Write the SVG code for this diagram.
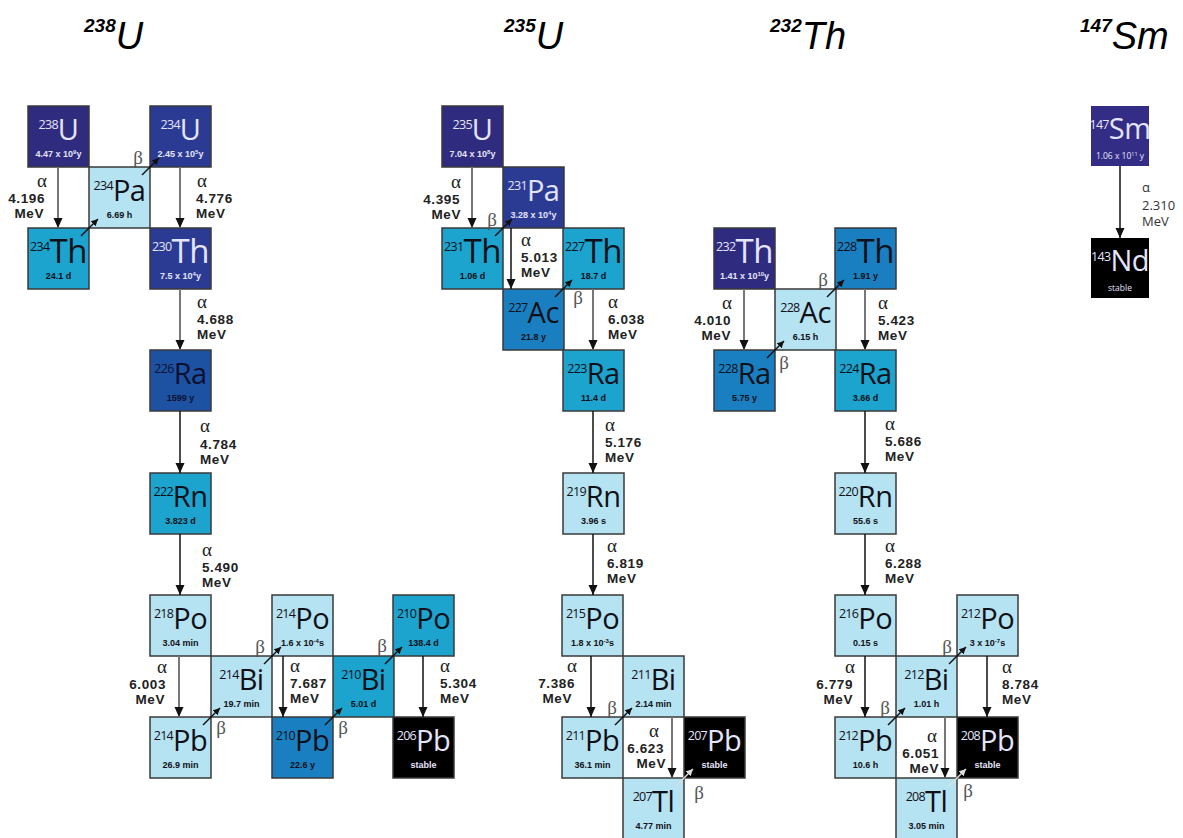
<svg xmlns="http://www.w3.org/2000/svg" width="1183" height="838" viewBox="0 0 1183 838">
<style>
.box{stroke:#3a3a3a;stroke-width:1.5}
.c1{fill:#2f2b7e}.c2{fill:#2b3b93}.c3{fill:#1d52a3}.c4{fill:#1a7fc1}.c5{fill:#1ca3ce}.c6{fill:#b6e3f2}.c7{fill:#000}
.sym{font-family:"Open Sans","Noto Sans",sans-serif;font-size:29px;text-anchor:middle;letter-spacing:-0.5px}
.big{font-size:33px}
.ms{font-size:12.5px;letter-spacing:-0.7px}
.hl{font-family:"Liberation Sans",Arial,sans-serif;font-weight:bold;font-size:9px;text-anchor:middle}
.sup{font-size:6px}
.tw{fill:#e4e4fb}.tk{fill:#101018}.tb{fill:#0c1030}
.en{font-family:"Liberation Sans",Arial,sans-serif;font-weight:bold;font-size:13.5px;letter-spacing:0.6px;fill:#222}
.al{font-family:"Liberation Serif",serif;font-weight:normal;font-size:19px;letter-spacing:0}
.bt{font-family:"Liberation Serif",serif;font-size:19px;fill:#555;text-anchor:middle}
.hd{font-family:"Liberation Sans",Arial,sans-serif;font-style:italic;font-size:38px;fill:#000}
.hds{font-size:19px;font-weight:bold}
.ak{stroke:#111;stroke-width:1.5;fill:none}
.ag{stroke:#777;stroke-width:2;fill:none}
.bk{stroke:#111;stroke-width:1.5;fill:none}
.bw{stroke:#ddd;stroke-width:1.5;fill:none}
</style>
<defs>
<marker id="hk" markerUnits="userSpaceOnUse" markerWidth="12" markerHeight="12" refX="10" refY="5" orient="auto"><path d="M0,0.5 L10,5 L0,9.5 z" fill="#111"/></marker>
<marker id="hg" markerUnits="userSpaceOnUse" markerWidth="12" markerHeight="12" refX="10" refY="5" orient="auto"><path d="M0,0.5 L10,5 L0,9.5 z" fill="#111"/></marker>
<marker id="bk" markerUnits="userSpaceOnUse" markerWidth="10" markerHeight="10" refX="7" refY="3.5" orient="auto"><path d="M0,0 L7,3.5 L0,7 z" fill="#111"/></marker>
<marker id="bw" markerUnits="userSpaceOnUse" markerWidth="10" markerHeight="10" refX="7" refY="3.5" orient="auto"><path d="M0,0 L7,3.5 L0,7 z" fill="#ddd"/></marker>
</defs>

<!-- headings -->
<g id="headings">
<text class="hd" x="84" y="49"><tspan class="hds" dy="-17">238</tspan><tspan dy="17">U</tspan></text>
<text class="hd" x="504" y="49"><tspan class="hds" dy="-17">235</tspan><tspan dy="17">U</tspan></text>
<text class="hd" x="770" y="49"><tspan class="hds" dy="-17">232</tspan><tspan dy="17">Th</tspan></text>
<text class="hd" x="1080" y="49"><tspan class="hds" dy="-17">147</tspan><tspan dy="17">Sm</tspan></text>
</g>

<!-- 238U series -->
<g id="n-U238" transform="translate(28,106)"><rect class="box c1" width="61" height="61"/><text class="sym tw" x="30.5" y="34"><tspan class="ms" dy="-11">238</tspan><tspan dy="11">U</tspan></text><text class="hl tw" x="30.5" y="51">4.47 x 10<tspan class="sup" dy="-3">9</tspan><tspan dy="3">y</tspan></text></g>
<g id="n-U234" transform="translate(150,106)"><rect class="box c2" width="61" height="61"/><text class="sym tw" x="30.5" y="34"><tspan class="ms" dy="-11">234</tspan><tspan dy="11">U</tspan></text><text class="hl tw" x="30.5" y="51">2.45 x 10<tspan class="sup" dy="-3">5</tspan><tspan dy="3">y</tspan></text></g>
<g id="n-Pa234" transform="translate(89,167)"><rect class="box c6" width="61" height="61"/><text class="sym tk" x="30.5" y="34"><tspan class="ms" dy="-11">234</tspan><tspan dy="11">Pa</tspan></text><text class="hl tk" x="30.5" y="51">6.69 h</text></g>
<g id="n-Th234" transform="translate(28,228)"><rect class="box c5" width="61" height="61"/><text class="sym big tk" x="30.5" y="35"><tspan class="ms" dy="-12">234</tspan><tspan dy="12">Th</tspan></text><text class="hl tk" x="30.5" y="51">24.1 d</text></g>
<g id="n-Th230" transform="translate(150,228)"><rect class="box c2" width="61" height="61"/><text class="sym big tw" x="30.5" y="35"><tspan class="ms" dy="-12">230</tspan><tspan dy="12">Th</tspan></text><text class="hl tw" x="30.5" y="51">7.5 x 10<tspan class="sup" dy="-3">4</tspan><tspan dy="3">y</tspan></text></g>
<g id="n-Ra226" transform="translate(150,350)"><rect class="box c3" width="61" height="61"/><text class="sym tb" x="30.5" y="34"><tspan class="ms" dy="-11">226</tspan><tspan dy="11">Ra</tspan></text><text class="hl tb" x="30.5" y="51">1599 y</text></g>
<g id="n-Rn222" transform="translate(150,473)"><rect class="box c5" width="61" height="61"/><text class="sym tk" x="30.5" y="34"><tspan class="ms" dy="-11">222</tspan><tspan dy="11">Rn</tspan></text><text class="hl tk" x="30.5" y="51">3.823 d</text></g>
<g id="n-Po218" transform="translate(150,595)"><rect class="box c6" width="61" height="61"/><text class="sym tk" x="30.5" y="34"><tspan class="ms" dy="-11">218</tspan><tspan dy="11">Po</tspan></text><text class="hl tk" x="30.5" y="51">3.04 min</text></g>
<g id="n-Bi214" transform="translate(211,656)"><rect class="box c6" width="61" height="61"/><text class="sym tk" x="30.5" y="34"><tspan class="ms" dy="-11">214</tspan><tspan dy="11">Bi</tspan></text><text class="hl tk" x="30.5" y="51">19.7 min</text></g>
<g id="n-Pb214" transform="translate(150,717)"><rect class="box c6" width="61" height="61"/><text class="sym tk" x="30.5" y="34"><tspan class="ms" dy="-11">214</tspan><tspan dy="11">Pb</tspan></text><text class="hl tk" x="30.5" y="51">26.9 min</text></g>
<g id="n-Po214" transform="translate(272,595)"><rect class="box c6" width="61" height="61"/><text class="sym tk" x="30.5" y="34"><tspan class="ms" dy="-11">214</tspan><tspan dy="11">Po</tspan></text><text class="hl tk" x="30.5" y="51">1.6 x 10<tspan class="sup" dy="-3">-4</tspan><tspan dy="3">s</tspan></text></g>
<g id="n-Pb210" transform="translate(272,717)"><rect class="box c4" width="61" height="61"/><text class="sym tk" x="30.5" y="34"><tspan class="ms" dy="-11">210</tspan><tspan dy="11">Pb</tspan></text><text class="hl tk" x="30.5" y="51">22.6 y</text></g>
<g id="n-Bi210" transform="translate(333,656)"><rect class="box c5" width="61" height="61"/><text class="sym tk" x="30.5" y="34"><tspan class="ms" dy="-11">210</tspan><tspan dy="11">Bi</tspan></text><text class="hl tk" x="30.5" y="51">5.01 d</text></g>
<g id="n-Po210" transform="translate(393,595)"><rect class="box c5" width="61" height="61"/><text class="sym tk" x="30.5" y="34"><tspan class="ms" dy="-11">210</tspan><tspan dy="11">Po</tspan></text><text class="hl tk" x="30.5" y="51">138.4 d</text></g>
<g id="n-Pb206" transform="translate(393,717)"><rect class="box c7" width="61" height="61"/><text class="sym tw" x="30.5" y="34"><tspan class="ms" dy="-11">206</tspan><tspan dy="11">Pb</tspan></text><text class="hl tw" x="30.5" y="51">stable</text></g>

<!-- 235U series -->
<g id="n-U235" transform="translate(442,106)"><rect class="box c1" width="61" height="61"/><text class="sym tw" x="30.5" y="34"><tspan class="ms" dy="-11">235</tspan><tspan dy="11">U</tspan></text><text class="hl tw" x="30.5" y="51">7.04 x 10<tspan class="sup" dy="-3">8</tspan><tspan dy="3">y</tspan></text></g>
<g id="n-Pa231" transform="translate(503,167)"><rect class="box c2" width="61" height="61"/><text class="sym tw" x="30.5" y="34"><tspan class="ms" dy="-11">231</tspan><tspan dy="11">Pa</tspan></text><text class="hl tw" x="30.5" y="51">3.28 x 10<tspan class="sup" dy="-3">4</tspan><tspan dy="3">y</tspan></text></g>
<g id="n-Th231" transform="translate(442,228)"><rect class="box c5" width="61" height="61"/><text class="sym big tk" x="30.5" y="35"><tspan class="ms" dy="-12">231</tspan><tspan dy="12">Th</tspan></text><text class="hl tk" x="30.5" y="51">1.06 d</text></g>
<g id="n-Th227" transform="translate(563,228)"><rect class="box c5" width="61" height="61"/><text class="sym big tk" x="30.5" y="35"><tspan class="ms" dy="-12">227</tspan><tspan dy="12">Th</tspan></text><text class="hl tk" x="30.5" y="51">18.7 d</text></g>
<g id="n-Ac227" transform="translate(503,289)"><rect class="box c4" width="61" height="61"/><text class="sym tk" x="30.5" y="34"><tspan class="ms" dy="-11">227</tspan><tspan dy="11">Ac</tspan></text><text class="hl tk" x="30.5" y="51">21.8 y</text></g>
<g id="n-Ra223" transform="translate(563,350)"><rect class="box c5" width="61" height="61"/><text class="sym tk" x="30.5" y="34"><tspan class="ms" dy="-11">223</tspan><tspan dy="11">Ra</tspan></text><text class="hl tk" x="30.5" y="51">11.4 d</text></g>
<g id="n-Rn219" transform="translate(563,473)"><rect class="box c6" width="61" height="61"/><text class="sym tk" x="30.5" y="34"><tspan class="ms" dy="-11">219</tspan><tspan dy="11">Rn</tspan></text><text class="hl tk" x="30.5" y="51">3.96 s</text></g>
<g id="n-Po215" transform="translate(562,595)"><rect class="box c6" width="61" height="61"/><text class="sym tk" x="30.5" y="34"><tspan class="ms" dy="-11">215</tspan><tspan dy="11">Po</tspan></text><text class="hl tk" x="30.5" y="51">1.8 x 10<tspan class="sup" dy="-3">-3</tspan><tspan dy="3">s</tspan></text></g>
<g id="n-Bi211" transform="translate(623,656)"><rect class="box c6" width="61" height="61"/><text class="sym tk" x="30.5" y="34"><tspan class="ms" dy="-11">211</tspan><tspan dy="11">Bi</tspan></text><text class="hl tk" x="30.5" y="51">2.14 min</text></g>
<g id="n-Pb211" transform="translate(562,717)"><rect class="box c6" width="61" height="61"/><text class="sym tk" x="30.5" y="34"><tspan class="ms" dy="-11">211</tspan><tspan dy="11">Pb</tspan></text><text class="hl tk" x="30.5" y="51">36.1 min</text></g>
<g id="n-Tl207" transform="translate(623,778)"><rect class="box c6" width="61" height="61"/><text class="sym tk" x="30.5" y="34"><tspan class="ms" dy="-11">207</tspan><tspan dy="11">Tl</tspan></text><text class="hl tk" x="30.5" y="51">4.77 min</text></g>
<g id="n-Pb207" transform="translate(684,717)"><rect class="box c7" width="61" height="61"/><text class="sym tw" x="30.5" y="34"><tspan class="ms" dy="-11">207</tspan><tspan dy="11">Pb</tspan></text><text class="hl tw" x="30.5" y="51">stable</text></g>

<!-- 232Th series -->
<g id="n-Th232" transform="translate(714,228)"><rect class="box c1" width="61" height="61"/><text class="sym big tw" x="30.5" y="35"><tspan class="ms" dy="-12">232</tspan><tspan dy="12">Th</tspan></text><text class="hl tw" x="30.5" y="51">1.41 x 10<tspan class="sup" dy="-3">10</tspan><tspan dy="3">y</tspan></text></g>
<g id="n-Ac228" transform="translate(775,289)"><rect class="box c6" width="61" height="61"/><text class="sym tk" x="30.5" y="34"><tspan class="ms" dy="-11">228</tspan><tspan dy="11">Ac</tspan></text><text class="hl tk" x="30.5" y="51">6.15 h</text></g>
<g id="n-Th228" transform="translate(835,228)"><rect class="box c4" width="61" height="61"/><text class="sym big tk" x="30.5" y="35"><tspan class="ms" dy="-12">228</tspan><tspan dy="12">Th</tspan></text><text class="hl tk" x="30.5" y="51">1.91 y</text></g>
<g id="n-Ra228" transform="translate(714,350)"><rect class="box c4" width="61" height="61"/><text class="sym tk" x="30.5" y="34"><tspan class="ms" dy="-11">228</tspan><tspan dy="11">Ra</tspan></text><text class="hl tk" x="30.5" y="51">5.75 y</text></g>
<g id="n-Ra224" transform="translate(835,350)"><rect class="box c5" width="61" height="61"/><text class="sym tk" x="30.5" y="34"><tspan class="ms" dy="-11">224</tspan><tspan dy="11">Ra</tspan></text><text class="hl tk" x="30.5" y="51">3.66 d</text></g>
<g id="n-Rn220" transform="translate(835,473)"><rect class="box c6" width="61" height="61"/><text class="sym tk" x="30.5" y="34"><tspan class="ms" dy="-11">220</tspan><tspan dy="11">Rn</tspan></text><text class="hl tk" x="30.5" y="51">55.6 s</text></g>
<g id="n-Po216" transform="translate(835,595)"><rect class="box c6" width="61" height="61"/><text class="sym tk" x="30.5" y="34"><tspan class="ms" dy="-11">216</tspan><tspan dy="11">Po</tspan></text><text class="hl tk" x="30.5" y="51">0.15 s</text></g>
<g id="n-Bi212" transform="translate(896,656)"><rect class="box c6" width="61" height="61"/><text class="sym tk" x="30.5" y="34"><tspan class="ms" dy="-11">212</tspan><tspan dy="11">Bi</tspan></text><text class="hl tk" x="30.5" y="51">1.01 h</text></g>
<g id="n-Po212" transform="translate(957,595)"><rect class="box c6" width="61" height="61"/><text class="sym tk" x="30.5" y="34"><tspan class="ms" dy="-11">212</tspan><tspan dy="11">Po</tspan></text><text class="hl tk" x="30.5" y="51">3 x 10<tspan class="sup" dy="-3">-7</tspan><tspan dy="3">s</tspan></text></g>
<g id="n-Pb212" transform="translate(835,717)"><rect class="box c6" width="61" height="61"/><text class="sym tk" x="30.5" y="34"><tspan class="ms" dy="-11">212</tspan><tspan dy="11">Pb</tspan></text><text class="hl tk" x="30.5" y="51">10.6 h</text></g>
<g id="n-Pb208" transform="translate(957,717)"><rect class="box c7" width="61" height="61"/><text class="sym tw" x="30.5" y="34"><tspan class="ms" dy="-11">208</tspan><tspan dy="11">Pb</tspan></text><text class="hl tw" x="30.5" y="51">stable</text></g>
<g id="n-Tl208" transform="translate(896,778)"><rect class="box c6" width="61" height="61"/><text class="sym tk" x="30.5" y="34"><tspan class="ms" dy="-11">208</tspan><tspan dy="11">Tl</tspan></text><text class="hl tk" x="30.5" y="51">3.05 min</text></g>

<!-- 147Sm -->
<g id="n-Sm147" transform="translate(1091,106)"><rect width="58" height="60" fill="#332d85"/><text class="sym tw" x="29" y="33"><tspan class="ms" dy="-10">147</tspan><tspan dy="10">Sm</tspan></text><text x="29" y="53" font-family="Open Sans, sans-serif" font-size="8.5" text-anchor="middle" fill="#e4e4fb">1.06 x 10<tspan font-size="5.5" dy="-3">11</tspan><tspan dy="3"> y</tspan></text></g>
<g id="n-Nd143" transform="translate(1091,238)"><rect class="c7" width="58" height="60"/><text class="sym tw" x="29" y="33"><tspan class="ms" dy="-10">143</tspan><tspan dy="10">Nd</tspan></text><text x="29" y="53" font-family="Open Sans, sans-serif" font-size="8.5" text-anchor="middle" fill="#e4e4fb">stable</text></g>

<!-- connectors -->
<g id="connectors">
<line class="ag" x1="58" y1="167" x2="58" y2="228" marker-end="url(#hg)"/>
<line class="ag" x1="180" y1="167" x2="180" y2="228" marker-end="url(#hg)"/>
<line class="ag" x1="180" y1="289" x2="180" y2="350" marker-end="url(#hg)"/>
<line class="ak" x1="180" y1="411" x2="180" y2="473" marker-end="url(#hk)"/>
<line class="ak" x1="180" y1="534" x2="180" y2="595" marker-end="url(#hk)"/>
<line class="ag" x1="179" y1="656" x2="179" y2="717" marker-end="url(#hg)"/>
<line class="ak" x1="283" y1="656" x2="283" y2="717" marker-end="url(#hk)"/>
<line class="ak" x1="423" y1="656" x2="423" y2="717" marker-end="url(#hk)"/>
<line class="ag" x1="472" y1="167" x2="472" y2="228" marker-end="url(#hg)"/>
<line class="ak" x1="511" y1="228" x2="511" y2="289" marker-end="url(#hk)"/>
<line class="ag" x1="593" y1="289" x2="593" y2="350" marker-end="url(#hg)"/>
<line class="ak" x1="593" y1="411" x2="593" y2="473" marker-end="url(#hk)"/>
<line class="ak" x1="593" y1="534" x2="593" y2="595" marker-end="url(#hk)"/>
<line class="ak" x1="591" y1="656" x2="591" y2="717" marker-end="url(#hk)"/>
<line class="ag" x1="672" y1="717" x2="672" y2="778" marker-end="url(#hg)"/>
<line class="ag" x1="744" y1="289" x2="744" y2="350" marker-end="url(#hg)"/>
<line class="ag" x1="865" y1="289" x2="865" y2="350" marker-end="url(#hg)"/>
<line class="ak" x1="865" y1="411" x2="865" y2="473" marker-end="url(#hk)"/>
<line class="ak" x1="865" y1="534" x2="865" y2="595" marker-end="url(#hk)"/>
<line class="ak" x1="865" y1="656" x2="865" y2="717" marker-end="url(#hk)"/>
<line class="ak" x1="987" y1="656" x2="987" y2="717" marker-end="url(#hk)"/>
<line class="ag" x1="945" y1="717" x2="945" y2="778" marker-end="url(#hg)"/>
<line class="ak" x1="1120" y1="166" x2="1120" y2="238" marker-end="url(#hk)"/>
<!-- beta -->
<line class="bk" x1="81" y1="236" x2="98" y2="219" marker-end="url(#bk)"/>
<line class="bk" x1="142" y1="175" x2="159" y2="158" marker-end="url(#bk)"/>
<line class="bk" x1="203" y1="725" x2="220" y2="708" marker-end="url(#bk)"/>
<line class="bk" x1="264" y1="664" x2="281" y2="647" marker-end="url(#bk)"/>
<line class="bk" x1="325" y1="725" x2="342" y2="708" marker-end="url(#bk)"/>
<line class="bk" x1="385" y1="664" x2="402" y2="647" marker-end="url(#bk)"/>
<line class="bk" x1="495" y1="236" x2="512" y2="219" marker-end="url(#bk)"/>
<line class="bk" x1="555" y1="297" x2="572" y2="280" marker-end="url(#bk)"/>
<line class="bk" x1="615" y1="725" x2="632" y2="708" marker-end="url(#bk)"/>
<line class="bw" x1="676" y1="786" x2="693" y2="769" marker-end="url(#bw)"/>
<line class="bk" x1="767" y1="358" x2="784" y2="341" marker-end="url(#bk)"/>
<line class="bk" x1="827" y1="297" x2="844" y2="280" marker-end="url(#bk)"/>
<line class="bk" x1="888" y1="725" x2="905" y2="708" marker-end="url(#bk)"/>
<line class="bk" x1="949" y1="664" x2="966" y2="647" marker-end="url(#bk)"/>
<line class="bw" x1="949" y1="786" x2="966" y2="769" marker-end="url(#bw)"/>
</g>

<!-- beta labels -->
<g id="beta-labels">
<text class="bt" x="138" y="164">β</text>
<text class="bt" x="221" y="734">β</text>
<text class="bt" x="260" y="653">β</text>
<text class="bt" x="343" y="734">β</text>
<text class="bt" x="382" y="652">β</text>
<text class="bt" x="492" y="226">β</text>
<text class="bt" x="578" y="304">β</text>
<text class="bt" x="612" y="714">β</text>
<text class="bt" x="699" y="799">β</text>
<text class="bt" x="784" y="369">β</text>
<text class="bt" x="823" y="286">β</text>
<text class="bt" x="885" y="714">β</text>
<text class="bt" x="947" y="653">β</text>
<text class="bt" x="968" y="797">β</text>
</g>

<!-- alpha energy labels -->
<g id="alpha-labels">
<text class="en"><tspan class="al" x="197" y="187">α</tspan><tspan x="196" y="203">4.776</tspan><tspan x="196" y="218">MeV</tspan></text>
<text class="en"><tspan class="al" x="197" y="308">α</tspan><tspan x="197" y="324">4.688</tspan><tspan x="197" y="339">MeV</tspan></text>
<text class="en"><tspan class="al" x="200" y="432">α</tspan><tspan x="200" y="449">4.784</tspan><tspan x="200" y="464">MeV</tspan></text>
<text class="en"><tspan class="al" x="202" y="556">α</tspan><tspan x="202" y="572">5.490</tspan><tspan x="202" y="587">MeV</tspan></text>
<text class="en"><tspan class="al" x="290" y="672">α</tspan><tspan x="290" y="688">7.687</tspan><tspan x="290" y="703">MeV</tspan></text>
<text class="en"><tspan class="al" x="440" y="672">α</tspan><tspan x="440" y="688">5.304</tspan><tspan x="440" y="703">MeV</tspan></text>
<text class="en"><tspan class="al" x="521" y="246">α</tspan><tspan x="521" y="262">5.013</tspan><tspan x="521" y="277">MeV</tspan></text>
<text class="en"><tspan class="al" x="608" y="308">α</tspan><tspan x="608" y="324">6.038</tspan><tspan x="608" y="339">MeV</tspan></text>
<text class="en"><tspan class="al" x="605" y="431">α</tspan><tspan x="605" y="447">5.176</tspan><tspan x="605" y="462">MeV</tspan></text>
<text class="en"><tspan class="al" x="607" y="552">α</tspan><tspan x="607" y="568">6.819</tspan><tspan x="607" y="583">MeV</tspan></text>
<text class="en"><tspan class="al" x="878" y="309">α</tspan><tspan x="878" y="325">5.423</tspan><tspan x="878" y="340">MeV</tspan></text>
<text class="en"><tspan class="al" x="885" y="430">α</tspan><tspan x="885" y="446">5.686</tspan><tspan x="885" y="461">MeV</tspan></text>
<text class="en"><tspan class="al" x="885" y="552">α</tspan><tspan x="885" y="568">6.288</tspan><tspan x="885" y="583">MeV</tspan></text>
<text class="en"><tspan class="al" x="1002" y="673">α</tspan><tspan x="1002" y="689">8.784</tspan><tspan x="1002" y="704">MeV</tspan></text>
<text class="en" text-anchor="end"><tspan class="al" x="47" y="187">α</tspan><tspan x="45" y="203">4.196</tspan><tspan x="44" y="218">MeV</tspan></text>
<text class="en" text-anchor="end"><tspan class="al" x="167" y="673">α</tspan><tspan x="166" y="689">6.003</tspan><tspan x="165" y="704">MeV</tspan></text>
<text class="en" text-anchor="end"><tspan class="al" x="461" y="188">α</tspan><tspan x="460" y="204">4.395</tspan><tspan x="461" y="219">MeV</tspan></text>
<text class="en" text-anchor="end"><tspan class="al" x="577" y="672">α</tspan><tspan x="575" y="688">7.386</tspan><tspan x="572" y="703">MeV</tspan></text>
<text class="en" text-anchor="end"><tspan class="al" x="659" y="737">α</tspan><tspan x="664" y="753">6.623</tspan><tspan x="666" y="768">MeV</tspan></text>
<text class="en" text-anchor="end"><tspan class="al" x="732" y="309">α</tspan><tspan x="731" y="325">4.010</tspan><tspan x="731" y="340">MeV</tspan></text>
<text class="en" text-anchor="end"><tspan class="al" x="855" y="673">α</tspan><tspan x="853" y="689">6.779</tspan><tspan x="853" y="704">MeV</tspan></text>
<text class="en" text-anchor="end"><tspan class="al" x="937" y="742">α</tspan><tspan x="939" y="758">6.051</tspan><tspan x="939" y="773">MeV</tspan></text>
<text font-family="Open Sans, sans-serif" font-size="13" fill="#333"><tspan x="1142" y="192">α</tspan><tspan x="1142" y="210">2.310</tspan><tspan x="1142" y="226">MeV</tspan></text>
</g>
</svg>
